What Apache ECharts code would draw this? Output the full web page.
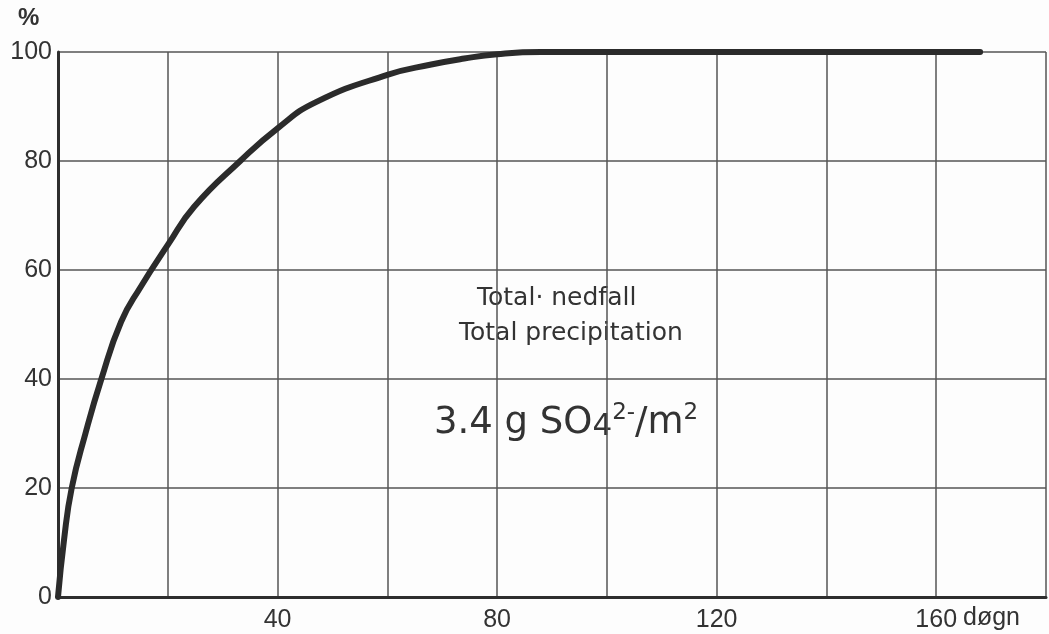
<!DOCTYPE html>
<html>
<head>
<meta charset="utf-8">
<script src="https://cdn.jsdelivr.net/npm/echarts@6/dist/echarts.min.js"></script>
<style>
html,body{margin:0;padding:0;background:#fdfdfd;}
#c{width:1049px;height:634px;}
</style>
</head>
<body>
<div id="c"></div>
<script>
// Days (x) and cumulative percentage (y)
const days    = [0, 1.1, 2.5, 5.0, 7.9, 11.5, 15.0, 20.0, 24.8, 33.2, 40.0, 47.0, 60.0, 68.0, 74.0, 80.0, 88.0, 120.0, 168.0];
const percent = [0, 10.5, 20.0, 30.0, 40.0, 50.5, 56.8, 64.6, 71.6, 80.0, 86.0, 90.8, 95.8, 97.7, 98.8, 99.6, 100.0, 100.0, 100.0];
const yTicks = [0, 20, 40, 60, 80, 100];
const xLabelTicks = [40, 80, 120, 160];
const unitY = '%';
const unitX = 'døgn';
const noteLine1 = 'Total· nedfall';
const noteLine2 = 'Total precipitation';

const chart = echarts.init(document.getElementById('c'), null, {renderer: 'canvas'});
const ink = '#333';
const labelFont = 'Liberation Sans';

chart.setOption({
  backgroundColor: '#fdfdfd',
  animation: false,
  grid: {left: 58, top: 52, bottom: 37, width: 993, containLabel: false},
  xAxis: {
    type: 'value', min: 0, max: 180, interval: 20,
    axisLine: {show: true, lineStyle: {color: '#2e2e2e', width: 3}},
    axisTick: {show: false},
    splitLine: {show: true, lineStyle: {color: '#555', width: 1.5}},
    axisLabel: {
      color: ink, fontFamily: labelFont, fontSize: 25, margin: 11,
      formatter: v => xLabelTicks.includes(v) ? String(v) : ''
    }
  },
  yAxis: {
    type: 'value', min: 0, max: 100, interval: 20,
    axisLine: {show: true, lineStyle: {color: '#2e2e2e', width: 3}},
    axisTick: {show: false},
    splitLine: {show: true, lineStyle: {color: '#555', width: 1.5}},
    axisLabel: {
      color: ink, fontFamily: labelFont, fontSize: 25, margin: 6,
      formatter: v => yTicks.includes(v) ? String(v) : ''
    }
  },
  series: [{
    type: 'line',
    data: days.map((d, i) => [d, percent[i]]),
    smooth: 0.5,
    symbol: 'none',
    lineStyle: {color: '#2b2b2b', width: 6, cap: 'round'},
    clip: false
  }],
  graphic: [
    {type: 'text', left: 18, top: 6, style: {text: unitY, fill: ink, font: 'bold 24px "Liberation Sans"'}},
    {type: 'text', left: 963, top: 606, style: {text: unitX, fill: ink, font: '25px "Liberation Sans"'}},
    {type: 'text', left: 477, top: 286, style: {text: noteLine1, fill: ink, font: '25px "DejaVu Sans"'}},
    {type: 'text', left: 459, top: 321, style: {text: noteLine2, fill: ink, font: '25px "DejaVu Sans"'}},
    {type: 'text', left: 434, top: 394, style: {
      text: '{n|3.4 g SO}{sub|4}{sup|2-}{n|/m}{sup|2}',
      fill: ink,
      rich: {
        n: {fontFamily: 'DejaVu Sans', fontSize: 37, lineHeight: 48, verticalAlign: 'bottom', fill: ink},
        sub: {fontFamily: 'DejaVu Sans', fontSize: 31, lineHeight: 48, verticalAlign: 'bottom', fill: ink},
        sup: {fontFamily: 'DejaVu Sans', fontSize: 23, lineHeight: 48, verticalAlign: 'top', padding: [8, 0, 0, 0], fill: ink}
      }
    }}
  ]
});
</script>
</body>
</html>
